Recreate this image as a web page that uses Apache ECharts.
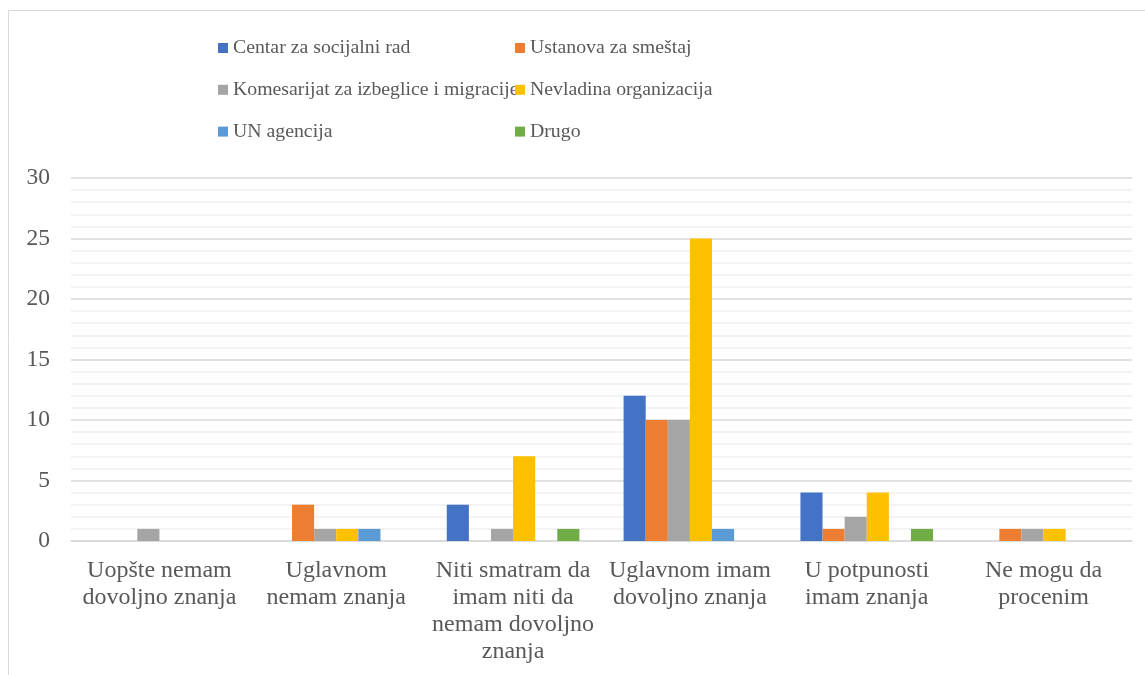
<!DOCTYPE html>
<html>
<head>
<meta charset="utf-8">
<script src="https://cdn.jsdelivr.net/npm/echarts@6/dist/echarts.min.js"></script>
<style>
html,body{margin:0;padding:0;background:#fff;}
#chart{width:1145px;height:675px;}
</style>
</head>
<body>
<div id="chart"></div>
<script>
const categories = [
  "Uopšte nemam\ndovoljno znanja",
  "Uglavnom\nnemam znanja",
  "Niti smatram da\nimam niti da\nnemam dovoljno\nznanja",
  "Uglavnom imam\ndovoljno znanja",
  "U potpunosti\nimam znanja",
  "Ne mogu da\nprocenim"
];
const seriesNames = [
  "Centar za socijalni rad",
  "Ustanova za smeštaj",
  "Komesarijat za izbeglice i migracije",
  "Nevladina organizacija",
  "UN agencija",
  "Drugo"
];
const centar = [0, 0, 3, 12, 4, 0];
const ustanova = [0, 3, 0, 10, 1, 1];
const komesarijat = [1, 1, 1, 10, 2, 1];
const nevladina = [0, 1, 7, 25, 4, 1];
const unAgencija = [0, 1, 0, 1, 0, 0];
const drugo = [0, 0, 1, 0, 1, 0];
const yTicks = [0, 5, 10, 15, 20, 25, 30];

const colors = ["#4472C4", "#ED7D31", "#A5A5A5", "#FFC000", "#5B9BD5", "#70AD47"];
const values = [centar, ustanova, komesarijat, nevladina, unAgencija, drugo];
const font = "Liberation Serif";
const textColor = "#595959";

const legendCommon = {
  orient: 'vertical',
  icon: 'rect',
  padding: 0,
  itemWidth: 10,
  itemHeight: 10,
  itemGap: 21.8,
  itemStyle: { borderWidth: 0 },
  textStyle: { fontFamily: font, fontSize: 19.8, color: textColor, lineHeight: 20 },
  top: 38,
  selectedMode: false
};

const chart = echarts.init(document.getElementById('chart'));
chart.setOption({
  animation: false,
  color: colors,
  textStyle: { fontFamily: font },
  graphic: [{
    type: 'rect',
    shape: { x: 8.5, y: 10.5, width: 1300, height: 800 },
    style: { fill: 'none', stroke: '#d9d9d9', lineWidth: 1 },
    silent: true,
    z: -1
  }],
  legend: [
    Object.assign({}, legendCommon, { left: 218, data: [seriesNames[0], seriesNames[2], seriesNames[4]] }),
    Object.assign({}, legendCommon, { left: 515, data: [seriesNames[1], seriesNames[3], seriesNames[5]] })
  ],
  grid: { left: 71, right: 13, top: 178, bottom: 134, containLabel: false },
  xAxis: {
    type: 'category',
    data: categories,
    axisLine: { show: true, lineStyle: { color: '#d9d9d9', width: 1.5 } },
    axisTick: { show: false },
    axisLabel: {
      interval: 0,
      margin: 16,
      fontFamily: font,
      fontSize: 24,
      lineHeight: 27,
      color: textColor,
      align: 'center'
    },
    splitLine: { show: false }
  },
  yAxis: {
    type: 'value',
    min: yTicks[0],
    max: yTicks[yTicks.length - 1],
    interval: yTicks[1] - yTicks[0],
    axisLine: { show: false },
    axisTick: { show: false },
    axisLabel: { margin: 21, fontFamily: font, fontSize: 23.5, color: textColor },
    splitLine: { show: true, lineStyle: { color: '#d9d9d9', width: 1.5 } },
    minorTick: { show: false, splitNumber: 5 },
    minorSplitLine: { show: true, lineStyle: { color: '#f0f0f0', width: 1.5 } }
  },
  series: seriesNames.map((name, i) => ({
    name: name,
    type: 'bar',
    data: values[i],
    barGap: '0%',
    barCategoryGap: '25%',
    itemStyle: { color: colors[i] }
  }))
});
</script>
</body>
</html>
